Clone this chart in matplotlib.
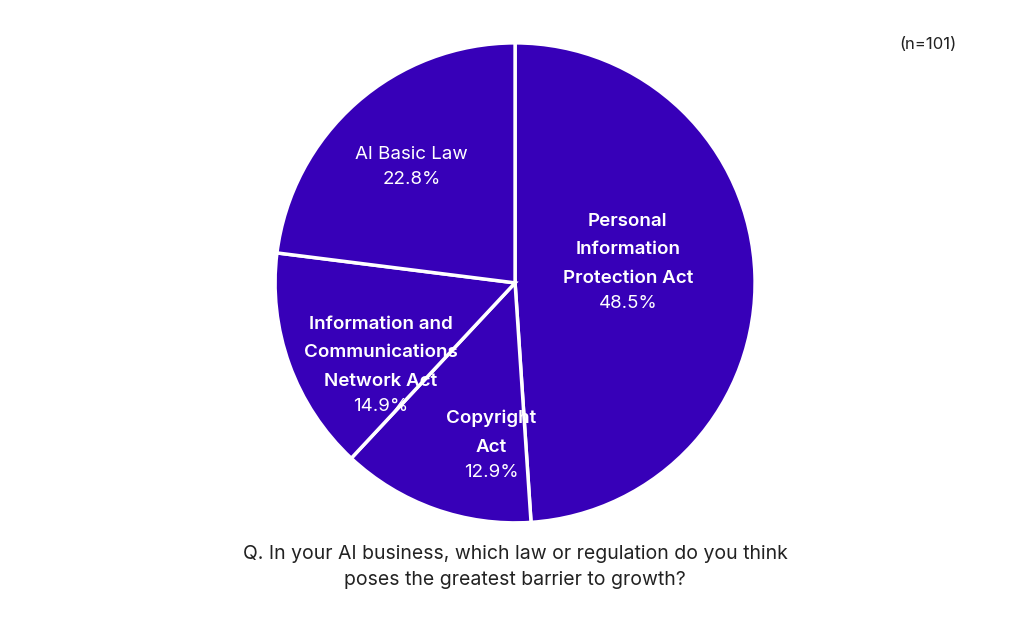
import matplotlib.pyplot as plt

plt.rcParams['font.family'] = ['Inter', 'DejaVu Sans']

titles = ["Personal\nInformation\nProtection Act", "Copyright\nAct",
          "Information and\nCommunications\nNetwork Act", "AI Basic Law"]
shares = [48.5, 12.9, 14.9, 22.8]
bold = [True, True, True, False]
label_pos = [(0.47, -0.017), (-0.10, -0.72), (-0.56, -0.446), (-0.43, 0.50)]

fig = plt.figure(figsize=(10.24, 6.4), dpi=100)
ax = fig.add_axes([0.503 - 0.2344, 0.558 - 0.375, 0.4688, 0.75])
ax.pie(shares, startangle=90, counterclock=False, colors=["#3700b8"] * 4,
       wedgeprops=dict(edgecolor="white", linewidth=2.5), radius=1.0)
ax.set_xlim(-1, 1)
ax.set_ylim(-1, 1)
ax.set_aspect("equal")
ax.axis("off")

for t, s, b, (x, y) in zip(titles, shares, bold, label_pos):
    ax.text(x, y, t, ha="center", va="bottom", color="white", fontsize=13.5,
            fontweight="semibold" if b else "normal", linespacing=1.9)
    ax.text(x, y - 0.035, f"{s}%", ha="center", va="top", color="white", fontsize=13.5)

fig.text(0.906, 0.93, "(n=101)", ha="center", va="center", fontsize=12, color="#222222")
fig.text(0.503, 0.114, "Q. In your AI business, which law or regulation do you think\nposes the greatest barrier to growth?",
         ha="center", va="center", fontsize=14, color="#222222", linespacing=1.6)

fig.savefig("out.png", dpi=100, facecolor="white")
